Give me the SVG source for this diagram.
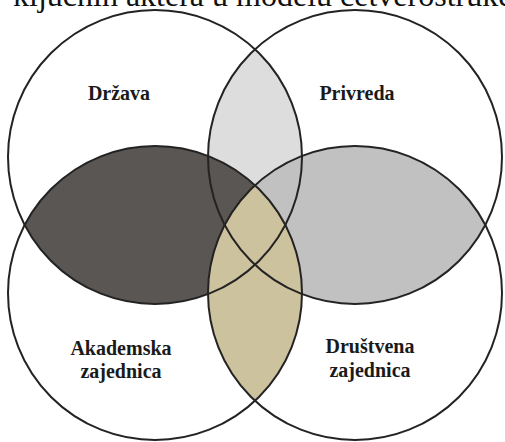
<svg xmlns="http://www.w3.org/2000/svg" width="505" height="442" viewBox="0 0 505 442">
<style>
  .ring { fill: none; stroke: #232323; stroke-width: 2; }
  .lbl { font-family: "Liberation Serif", "Times New Roman", serif; font-weight: bold; font-size: 20px; fill: #1a1a1a; text-anchor: middle; }
  .title { font-family: "Liberation Serif", "Times New Roman", serif; font-size: 32px; fill: #111; }
</style>
<rect width="505" height="442" fill="#ffffff"/>
<text class="title" x="13" y="6">ključnih aktera u modelu četverostruke</text>
<g id="overlaps">
  <path d="M255,49.3 A147,147 0 0 1 255,264.7 A147,147 0 0 1 255,49.3 Z" fill="#dddddd"/>
  <path d="M24.7,225 A147,147 0 0 1 285.3,225 A147,147 0 0 1 24.7,225 Z" fill="#595654"/>
  <path d="M224.7,225 A147,147 0 0 1 485.3,225 A147,147 0 0 1 224.7,225 Z" fill="#c1c1c1"/>
  <path d="M255,185.3 A147,147 0 0 1 255,400.7 A147,147 0 0 1 255,185.3 Z" fill="#cdc29e"/>
</g>
<g id="drzava">
  <circle class="ring" cx="155" cy="157" r="147"/>
  <text class="lbl" x="119" y="100">Država</text>
</g>
<g id="privreda">
  <circle class="ring" cx="355" cy="157" r="147"/>
  <text class="lbl" x="357" y="100">Privreda</text>
</g>
<g id="akademska">
  <circle class="ring" cx="155" cy="293" r="147"/>
  <text class="lbl" x="121" y="355">Akademska</text>
  <text class="lbl" x="121" y="378">zajednica</text>
</g>
<g id="drustvena">
  <circle class="ring" cx="355" cy="293" r="147"/>
  <text class="lbl" x="370" y="353">Društvena</text>
  <text class="lbl" x="370" y="377">zajednica</text>
</g>
<g id="connectors"></g>
</svg>
